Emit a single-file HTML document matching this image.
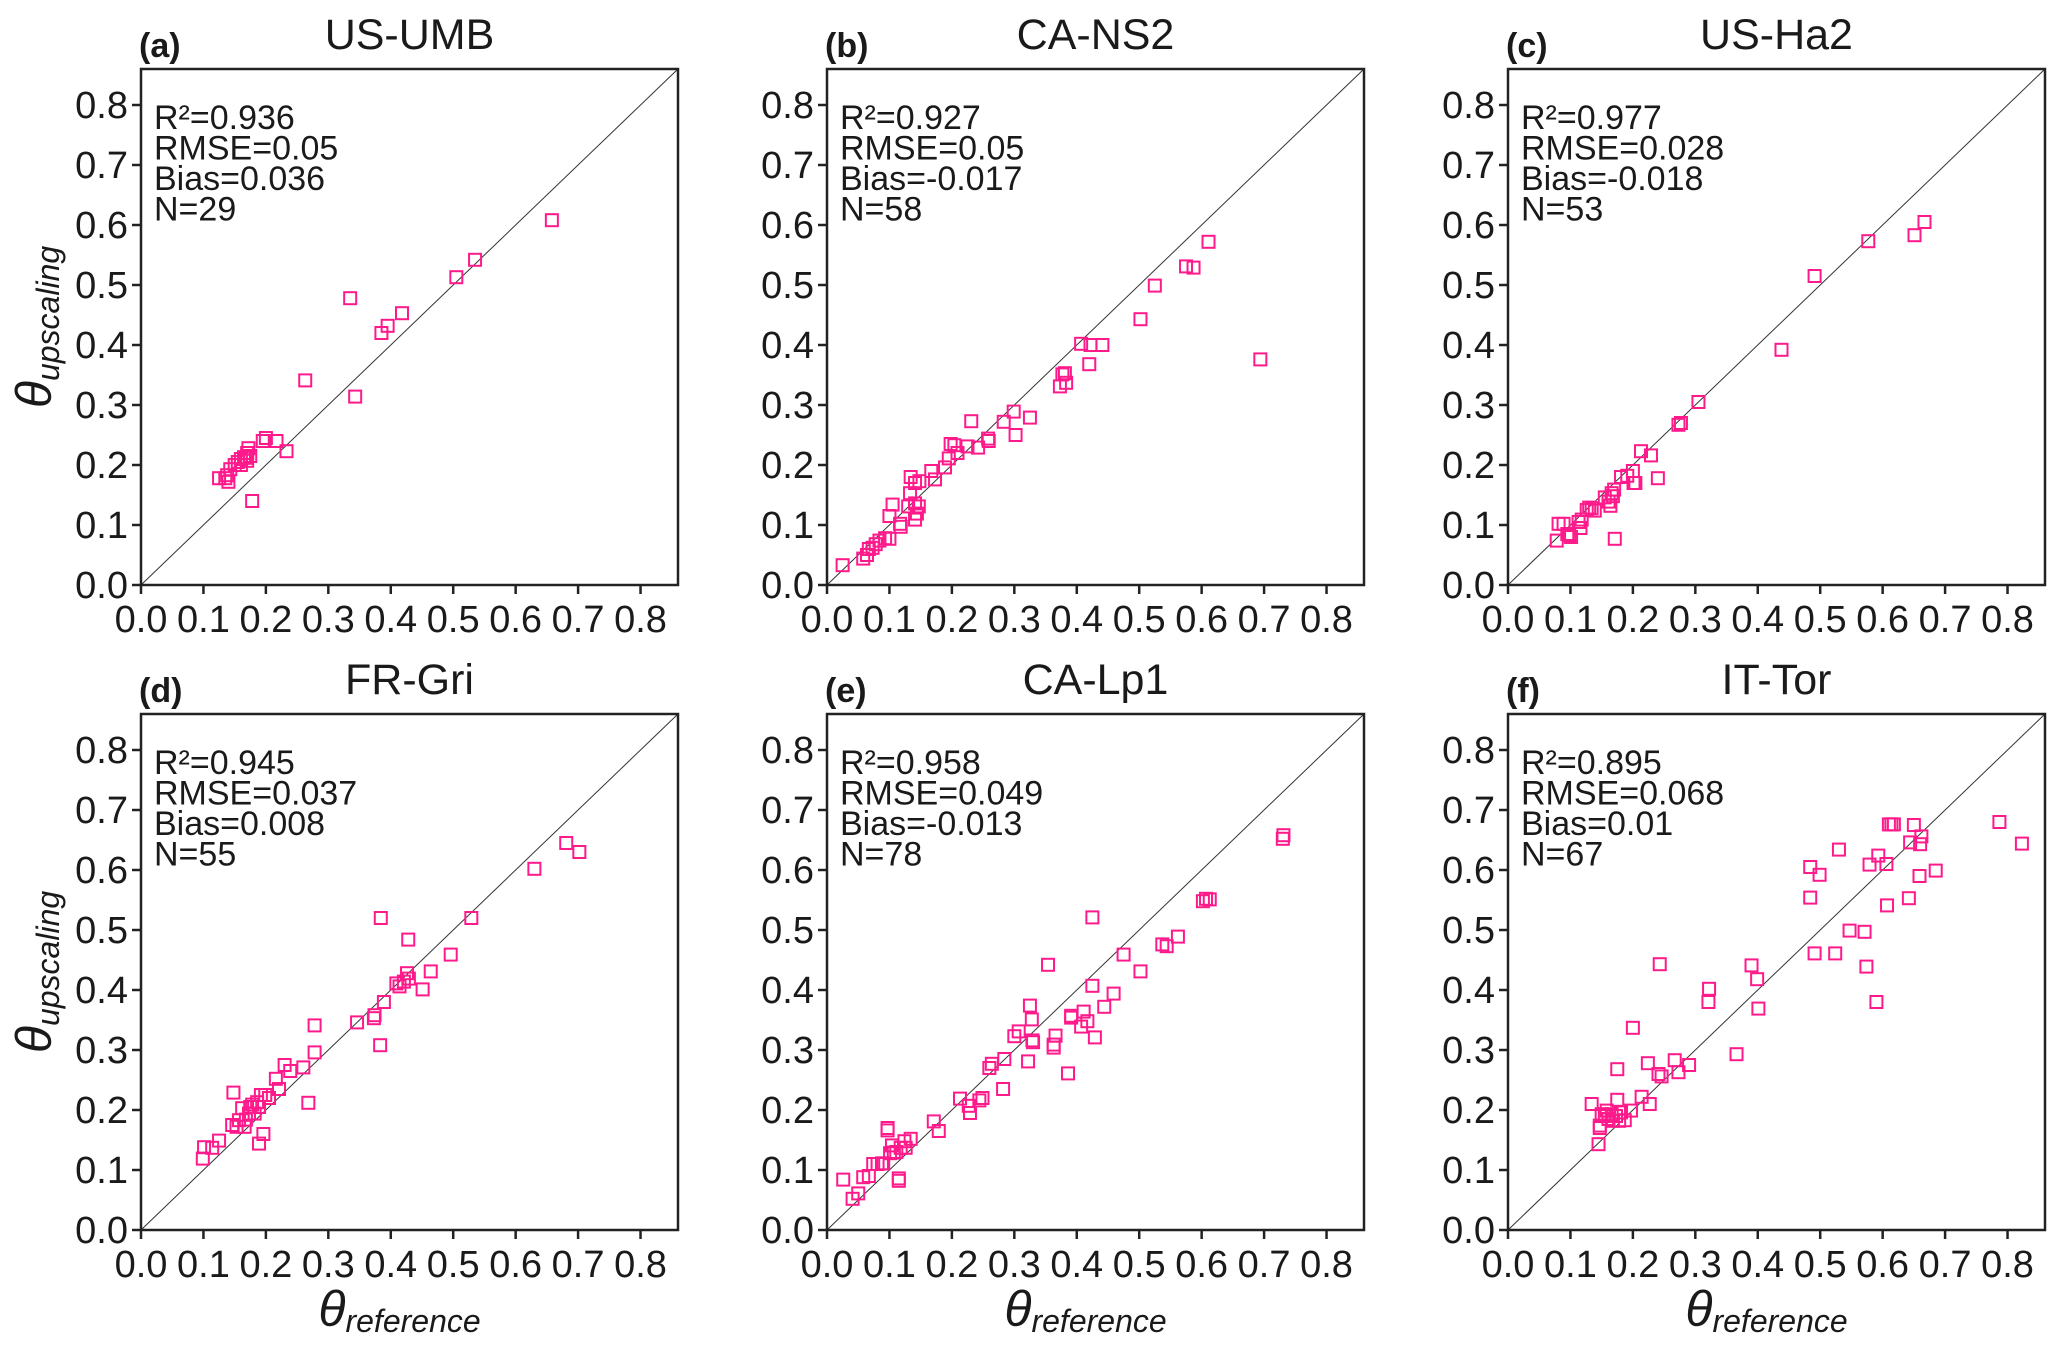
<!DOCTYPE html>
<html><head><meta charset="utf-8">
<style>
html,body{margin:0;padding:0;background:#fff;}
svg{display:block;}
text{font-family:"Liberation Sans",sans-serif;fill:#1a1a1a;}
</style></head>
<body>
<svg id="fig" width="2067" height="1353" viewBox="0 0 2067 1353" xmlns="http://www.w3.org/2000/svg"></svg>
<script>
const tickValues=[0,0.1,0.2,0.3,0.4,0.5,0.6,0.7,0.8];
const tickLabels=["0.0","0.1","0.2","0.3","0.4","0.5","0.6","0.7","0.8"];
const panelTitles=["US-UMB","CA-NS2","US-Ha2","FR-Gri","CA-Lp1","IT-Tor"];
const panelLetters=["(a)","(b)","(c)","(d)","(e)","(f)"];
const statR2=["0.936","0.927","0.977","0.945","0.958","0.895"];
const statRMSE=["0.05","0.05","0.028","0.037","0.049","0.068"];
const statBias=["0.036","-0.017","-0.018","0.008","-0.013","0.01"];
const statN=["29","58","53","55","78","67"];

const aX=[0.125,0.135,0.138,0.14,0.143,0.15,0.155,0.16,0.165,0.17,0.17,0.172,0.175,0.178,0.195,0.2,0.217,0.233,0.263,0.335,0.343,0.385,0.395,0.418,0.505,0.535,0.658,0.16,0.168];
const aY=[0.178,0.178,0.183,0.172,0.193,0.2,0.205,0.21,0.213,0.207,0.22,0.228,0.215,0.14,0.24,0.245,0.24,0.223,0.341,0.478,0.314,0.42,0.432,0.453,0.513,0.542,0.608,0.2,0.212];

const bX=[0.025,0.058,0.064,0.067,0.073,0.078,0.084,0.093,0.1,0.1,0.105,0.117,0.118,0.13,0.133,0.134,0.141,0.148,0.141,0.147,0.144,0.141,0.167,0.173,0.189,0.195,0.198,0.204,0.209,0.225,0.231,0.242,0.258,0.259,0.283,0.299,0.302,0.325,0.373,0.377,0.381,0.383,0.407,0.422,0.441,0.42,0.502,0.525,0.575,0.587,0.611,0.694];
const bY=[0.033,0.044,0.05,0.06,0.062,0.068,0.074,0.078,0.077,0.115,0.134,0.102,0.097,0.131,0.153,0.18,0.17,0.173,0.136,0.131,0.119,0.109,0.19,0.176,0.196,0.211,0.235,0.233,0.22,0.231,0.273,0.229,0.244,0.24,0.272,0.289,0.25,0.279,0.331,0.351,0.353,0.337,0.402,0.4,0.4,0.368,0.443,0.499,0.531,0.529,0.572,0.376];

const cX=[0.078,0.081,0.089,0.095,0.101,0.098,0.113,0.116,0.118,0.126,0.13,0.134,0.139,0.155,0.161,0.164,0.166,0.17,0.168,0.171,0.181,0.191,0.2,0.204,0.201,0.213,0.229,0.24,0.273,0.277,0.305,0.438,0.491,0.577,0.651,0.667];
const cY=[0.074,0.102,0.102,0.085,0.08,0.083,0.105,0.095,0.109,0.125,0.129,0.128,0.124,0.146,0.139,0.132,0.153,0.159,0.148,0.077,0.18,0.182,0.19,0.17,0.17,0.223,0.216,0.178,0.267,0.27,0.305,0.392,0.515,0.573,0.583,0.605];

const dX=[0.099,0.101,0.114,0.125,0.148,0.146,0.153,0.157,0.162,0.166,0.168,0.173,0.175,0.178,0.182,0.186,0.189,0.189,0.192,0.196,0.199,0.205,0.216,0.221,0.23,0.239,0.26,0.268,0.278,0.278,0.346,0.373,0.374,0.383,0.384,0.389,0.409,0.414,0.421,0.426,0.429,0.428,0.451,0.464,0.496,0.529,0.63,0.681,0.702];
const dY=[0.119,0.138,0.137,0.149,0.229,0.175,0.172,0.183,0.203,0.172,0.184,0.194,0.205,0.209,0.194,0.213,0.205,0.144,0.225,0.16,0.225,0.22,0.252,0.235,0.275,0.265,0.271,0.212,0.341,0.296,0.346,0.353,0.358,0.308,0.52,0.38,0.411,0.406,0.414,0.428,0.419,0.484,0.401,0.431,0.459,0.52,0.602,0.645,0.63];

const eX=[0.026,0.041,0.05,0.058,0.067,0.074,0.081,0.088,0.09,0.097,0.097,0.101,0.104,0.107,0.111,0.115,0.115,0.118,0.124,0.126,0.134,0.171,0.179,0.213,0.227,0.229,0.244,0.249,0.26,0.264,0.282,0.284,0.3,0.307,0.322,0.325,0.328,0.329,0.33,0.354,0.363,0.363,0.366,0.386,0.391,0.391,0.407,0.411,0.417,0.425,0.425,0.429,0.444,0.459,0.475,0.502,0.537,0.544,0.562,0.602,0.607,0.613,0.73,0.731];
const eY=[0.084,0.052,0.061,0.088,0.09,0.11,0.11,0.111,0.111,0.17,0.166,0.128,0.141,0.129,0.13,0.082,0.086,0.137,0.148,0.137,0.152,0.181,0.165,0.219,0.207,0.195,0.216,0.22,0.27,0.277,0.235,0.285,0.323,0.331,0.281,0.374,0.351,0.316,0.313,0.442,0.304,0.309,0.324,0.261,0.354,0.357,0.339,0.364,0.348,0.407,0.521,0.321,0.372,0.394,0.459,0.431,0.476,0.473,0.489,0.548,0.552,0.551,0.652,0.658];

const fX=[0.145,0.147,0.147,0.134,0.15,0.155,0.158,0.161,0.166,0.168,0.173,0.175,0.175,0.178,0.181,0.187,0.197,0.2,0.214,0.224,0.227,0.241,0.246,0.243,0.267,0.273,0.29,0.322,0.321,0.366,0.39,0.399,0.401,0.484,0.484,0.491,0.499,0.524,0.53,0.547,0.571,0.574,0.579,0.59,0.593,0.606,0.607,0.61,0.614,0.618,0.642,0.644,0.65,0.659,0.66,0.662,0.685,0.787,0.823];
const fY=[0.143,0.17,0.174,0.21,0.193,0.19,0.199,0.185,0.193,0.182,0.19,0.217,0.268,0.182,0.196,0.183,0.199,0.337,0.222,0.278,0.21,0.26,0.256,0.443,0.283,0.263,0.275,0.402,0.38,0.293,0.441,0.418,0.369,0.605,0.554,0.461,0.592,0.461,0.634,0.499,0.497,0.439,0.609,0.38,0.624,0.61,0.541,0.676,0.676,0.676,0.553,0.646,0.675,0.59,0.643,0.656,0.599,0.68,0.644];

const seriesX=[aX,bX,cX,dX,eX,fX];
const seriesY=[aY,bY,cY,dY,eY,fY];

const NS="http://www.w3.org/2000/svg";
const svg=document.getElementById('fig');
const colLeft=[141,827,1508], rowTop=[69,714], PW=537, PH=516, VMAX=0.86;
function mk(tag,attrs,parent){const e=document.createElementNS(NS,tag);for(const k in attrs)e.setAttribute(k,attrs[k]);parent.appendChild(e);return e;}

for(let p=0;p<6;p++){
  const L=colLeft[p%3], T=rowTop[Math.floor(p/3)];
  const sx=v=>L+v/VMAX*PW, sy=v=>T+PH-v/VMAX*PH;
  const g=mk('g',{},svg);
  
  
  const title=mk('text',{x:L+PW/2,y:T-20,'font-size':43,'text-anchor':'middle'},g);
  
  
  title.textContent=panelTitles[p];
  const let_=mk('text',{x:L-2,y:T-12,'font-size':34,'font-weight':'bold'},g);
  
  
  let_.textContent=panelLetters[p];
  const d=mk('line',{x1:sx(0),y1:sy(0),x2:sx(VMAX),y2:sy(VMAX),stroke:'#333','stroke-width':1},g);
  
  
  for(let i=0;i<tickValues.length;i++){
    const v=tickValues[i];
    const xt=mk('line',{x1:sx(v),y1:T+PH,x2:sx(v),y2:T+PH+9,stroke:'#222','stroke-width':2.5},g);
    
    
    const xl=mk('text',{x:sx(v),y:T+PH+47,'font-size':38,'text-anchor':'middle'},g);
    
    
    xl.textContent=tickLabels[i];
    const yt=mk('line',{x1:L-9,y1:sy(v),x2:L,y2:sy(v),stroke:'#222','stroke-width':2.5},g);
    
    
    const yl=mk('text',{x:L-13,y:sy(v)+13,'font-size':38,'text-anchor':'end'},g);
    
    
    yl.textContent=tickLabels[i];
  }
  const xs=seriesX[p], ys=seriesY[p];
  for(let i=0;i<xs.length;i++){
    const r=mk('rect',{x:sx(xs[i])-6,y:sy(ys[i])-6,width:12,height:12,fill:'none',stroke:'#ff1a8c','stroke-width':2},g);
    
    
  }
  const fr=mk('rect',{x:L,y:T,width:PW,height:PH,fill:'none',stroke:'#222','stroke-width':2.5},g);
  
  
  const lines=["R²="+statR2[p],"RMSE="+statRMSE[p],"Bias="+statBias[p],"N="+statN[p]];
  for(let i=0;i<4;i++){
    const st=mk('text',{x:L+13,y:T+60+i*30.5,'font-size':34},g);
    
    
    st.textContent=lines[i];
  }
  if(p%3==0){
    const yl=mk('text',{transform:'translate('+(L-90)+','+(T+PH/2)+') rotate(-90)','text-anchor':'middle','font-family':'"Liberation Serif",serif','font-style':'italic'},g);
    
    
    yl.innerHTML='<tspan font-size="50">θ</tspan><tspan font-size="32" dy="8">upscaling</tspan>';
  }
  if(p>=3){
    const xl=mk('text',{x:L+PW/2-10,y:T+PH+96,'text-anchor':'middle','font-family':'"Liberation Serif",serif','font-style':'italic'},g);
    
    
    xl.innerHTML='<tspan font-size="50">θ</tspan><tspan font-size="32" dy="6">reference</tspan>';
  }
}
</script>
</body></html>
